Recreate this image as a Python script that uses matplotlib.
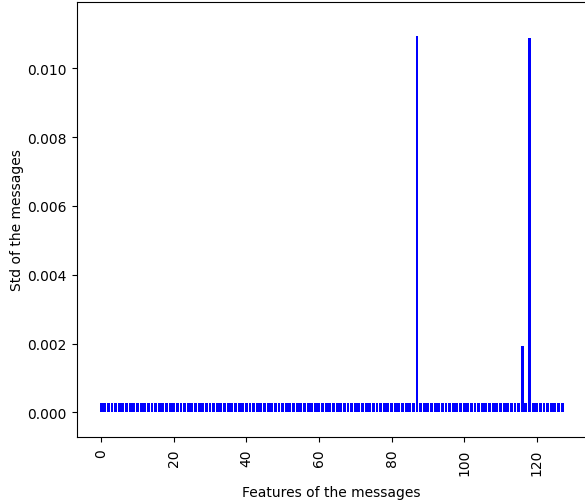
import matplotlib
matplotlib.use("Agg")
import matplotlib.pyplot as plt
import numpy as np

# standard deviation of each message feature (128 features)
n_features = 128
base_std = 0.00026
spike_idx = [87, 116, 118]
spike_std = [0.01094, 0.00192, 0.01088]

std = [base_std] * n_features
for i, v in zip(spike_idx, spike_std):
    std[i] = v
features = list(range(n_features))

fig = plt.figure(figsize=(5.85, 5.02), dpi=100)
ax = fig.add_axes([76.5 / 585, 1 - 437.7 / 502, (586.8 - 76.5) / 585, (437.7 - 3) / 502])

ax.bar(features, std, color='blue')
ax.set_xlim(-6.79, 133.79)
ax.set_ylim(-0.000709, 0.011927)
ax.set_yticks(np.arange(0, 0.0101, 0.002))
ax.tick_params(axis='x', labelrotation=90, pad=5)

ax.set_xlabel("Features of the messages", labelpad=7.4)
ax.set_ylabel("Std of the messages", labelpad=2.6)

fig.savefig("out.png", dpi=100)
